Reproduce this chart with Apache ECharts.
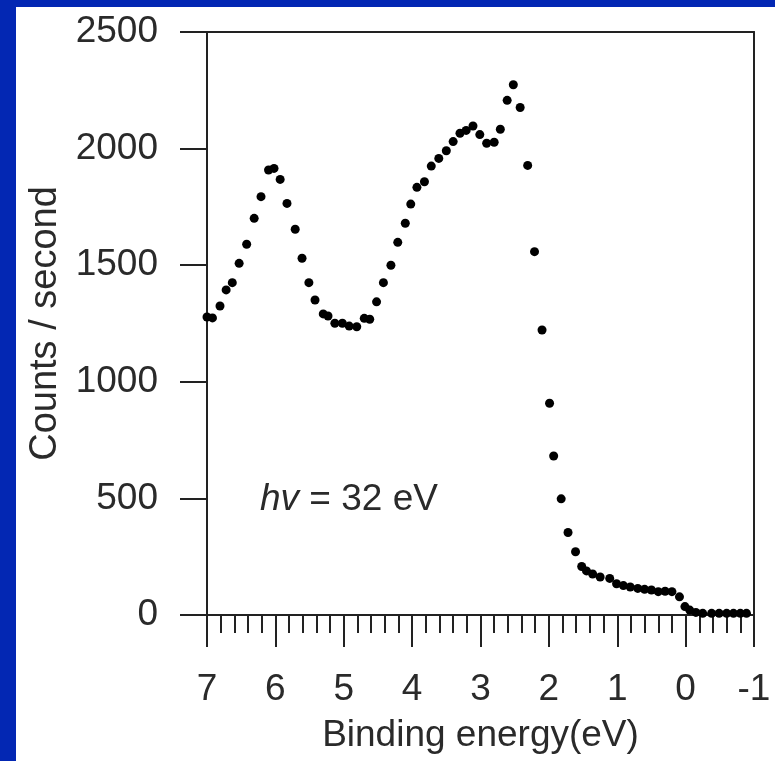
<!DOCTYPE html>
<html>
<head>
<meta charset="utf-8">
<script src="https://cdn.jsdelivr.net/npm/echarts@6/dist/echarts.min.js"></script>
<style>
  html, body { margin: 0; padding: 0; background: #0327b3; }
  #chart { position: absolute; left: 16px; top: 7px; width: 759px; height: 754px; background: #ffffff; }
</style>
</head>
<body>
<div id="chart"></div>
<script>
// binding energy (eV) and counts/second
var energia = [7.00, 6.92, 6.81, 6.72, 6.63, 6.53, 6.42, 6.31, 6.21, 6.10,
  6.02, 5.93, 5.83, 5.71, 5.61, 5.51, 5.42, 5.30, 5.23, 5.13,
  5.02, 4.92, 4.81, 4.70, 4.62, 4.52, 4.42, 4.31, 4.21, 4.10,
  4.02, 3.93, 3.82, 3.72, 3.61, 3.50, 3.40, 3.30, 3.21, 3.11,
  3.01, 2.91, 2.80, 2.71, 2.61, 2.52, 2.42, 2.31, 2.21, 2.10,
  1.99, 1.93, 1.82, 1.72, 1.61, 1.52, 1.45, 1.36, 1.25, 1.11,
  1.01, 0.91, 0.81, 0.70, 0.60, 0.50, 0.40, 0.30, 0.20, 0.09,
  0.01, -0.06, -0.15, -0.25, -0.38, -0.49, -0.60, -0.70, -0.80, -0.89];
var cuentas = [1278, 1274, 1325, 1394, 1425, 1508, 1590, 1701, 1794, 1908,
  1915, 1868, 1765, 1654, 1530, 1425, 1351, 1291, 1282, 1251,
  1251, 1239, 1236, 1272, 1268, 1343, 1425, 1500, 1598, 1680,
  1762, 1834, 1858, 1925, 1958, 1991, 2030, 2066, 2078, 2097,
  2060, 2023, 2027, 2083, 2207, 2274, 2176, 1928, 1558, 1222,
  908, 682, 498, 354, 271, 208, 189, 176, 163, 157,
  134, 126, 120, 114, 110, 107, 100, 102, 100, 78,
  36, 21, 11, 7, 7, 7, 7, 7, 7, 7];
var anotacion = '{i|hv} = 32 eV';

var puntos = [];
for (var i = 0; i < energia.length; i++) {
  puntos.push([energia[i], cuentas[i]]);
}

var fuente = 'Liberation Sans, Arial, sans-serif';
var colorTexto = '#2a2a2a';
var linea = { show: true, onZero: false, lineStyle: { color: '#222', width: 2 } };
var sinFormato = function (v) { return String(v); };

var myChart = echarts.init(document.getElementById('chart'));
myChart.setOption({
  animation: false,
  grid: { left: 191, top: 25, right: 21, bottom: 146, containLabel: false },
  xAxis: [{
    type: 'value', inverse: true, min: -1, max: 7, interval: 1,
    name: 'Binding energy(eV)', nameLocation: 'middle', nameGap: 102,
    nameTextStyle: { fontFamily: fuente, fontSize: 37, color: colorTexto },
    axisLine: linea,
    axisTick: { show: true, length: 32, lineStyle: { color: '#222', width: 2 } },
    minorTick: { show: true, splitNumber: 5, length: 18, lineStyle: { color: '#222', width: 2 } },
    axisLabel: { fontFamily: fuente, fontSize: 37, color: colorTexto, margin: 56, formatter: sinFormato },
    splitLine: { show: false }
  }, {
    type: 'value', inverse: true, min: -1, max: 7, position: 'top',
    axisLine: linea, axisTick: { show: false }, axisLabel: { show: false }, splitLine: { show: false }
  }],
  yAxis: [{
    type: 'value', min: 0, max: 2500, interval: 500,
    name: 'Counts / second', nameLocation: 'middle', nameGap: 140,
    nameTextStyle: { fontFamily: fuente, fontSize: 38, color: colorTexto },
    axisLine: linea,
    axisTick: { show: true, length: 27, lineStyle: { color: '#222', width: 2 } },
    axisLabel: { fontFamily: fuente, fontSize: 37, color: colorTexto, margin: 49, formatter: sinFormato },
    splitLine: { show: false }
  }, {
    type: 'value', min: 0, max: 2500, position: 'right',
    axisLine: linea, axisTick: { show: false }, axisLabel: { show: false }, splitLine: { show: false }
  }],
  graphic: [{
    type: 'text', left: 244, top: 474,
    style: {
      text: anotacion, fill: colorTexto, font: '37px ' + fuente,
      rich: { i: { fontStyle: 'italic', fontSize: 37, fontFamily: fuente, fill: colorTexto } }
    }
  }],
  series: [{
    type: 'scatter', data: puntos, symbol: 'circle', symbolSize: 9,
    itemStyle: { color: '#000', opacity: 1 }
  }]
});
</script>
</body>
</html>
